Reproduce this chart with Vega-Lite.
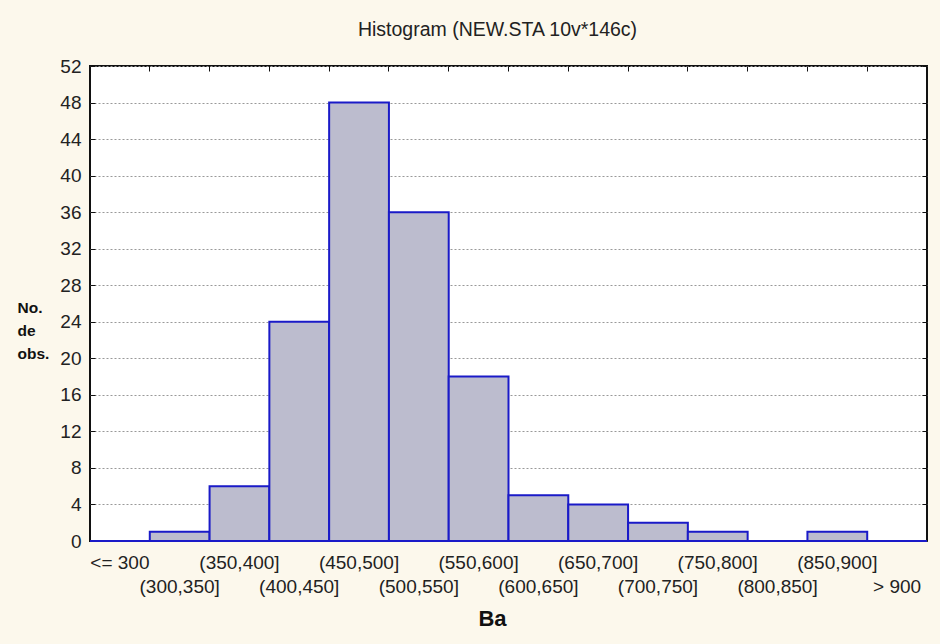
{
  "$schema": "https://vega.github.io/schema/vega-lite/v6.json",
  "width": 837,
  "height": 475,
  "autosize": {"type": "none"},
  "padding": {"left": 90, "top": 66, "right": 13, "bottom": 103},
  "background": "#FCF8EC",
  "config": {
    "view": {"stroke": "#111111", "strokeWidth": 2, "fill": "#FFFFFF"},
    "font": "Liberation Sans"
  },
  "title": {
    "text": "Histogram (NEW.STA 10v*146c)",
    "fontSize": 19.5,
    "fontWeight": "normal",
    "color": "#222222",
    "font": "Liberation Sans",
    "anchor": "middle",
    "dx": -11,
    "offset": 17
  },
  "data": {
    "values": [
      {"label": "<= 300", "count": 0},
      {"label": "(300,350]", "count": 1},
      {"label": "(350,400]", "count": 6},
      {"label": "(400,450]", "count": 24},
      {"label": "(450,500]", "count": 48},
      {"label": "(500,550]", "count": 36},
      {"label": "(550,600]", "count": 18},
      {"label": "(600,650]", "count": 5},
      {"label": "(650,700]", "count": 4},
      {"label": "(700,750]", "count": 2},
      {"label": "(750,800]", "count": 1},
      {"label": "(800,850]", "count": 0},
      {"label": "(850,900]", "count": 1},
      {"label": "> 900", "count": 0}
    ]
  },
  "layer": [
    {
      "mark": {"type": "bar", "fill": "#BCBCCE", "stroke": "#1A1AC8", "strokeWidth": 2},
      "encoding": {
        "x": {
          "field": "label",
          "type": "nominal",
          "sort": null,
          "scale": {"paddingInner": 0, "paddingOuter": 0},
          "axis": {
            "orient": "bottom",
            "title": "Ba",
            "titleFontSize": 22,
            "titleFontWeight": 900,
            "titleColor": "#111111",
            "titleX": 402,
            "titleAlign": "center",
            "titlePadding": 12,
            "labelAngle": 0,
            "labelFontSize": 19,
            "labelColor": "#222222",
            "labelPadding": 12,
            "labelLineHeight": 24,
            "labelExpr": "round(datum.index * 13) % 2 == 0 ? datum.label : ['', datum.label]",
            "ticks": false,
            "domain": false,
            "grid": false
          }
        },
        "y": {
          "field": "count",
          "type": "quantitative",
          "scale": {"domain": [0, 52], "nice": false},
          "axis": {
            "orient": "left",
            "values": [0, 4, 8, 12, 16, 20, 24, 28, 32, 36, 40, 44, 48, 52],
            "title": ["No.", "de", "obs."],
            "titleAngle": 0,
            "titleFontSize": 15.5,
            "titleFontWeight": "bold",
            "titleColor": "#111111",
            "titleAlign": "left",
            "titleBaseline": "middle",
            "titleLineHeight": 23,
            "titleX": -73,
            "titleY": 241,
            "labelFontSize": 19,
            "labelColor": "#222222",
            "labelPadding": 14,
            "tickSize": -5,
            "tickColor": "#111111",
            "domain": false,
            "grid": true,
            "gridColor": "#999999",
            "gridDash": [2, 2],
            "gridWidth": 1
          }
        }
      }
    },
    {
      "mark": {"type": "bar", "opacity": 0},
      "encoding": {
        "x": {
          "field": "label",
          "type": "nominal",
          "sort": null,
          "axis": {
            "orient": "top",
            "title": null,
            "labels": false,
            "bandPosition": 0,
            "tickSize": -5,
            "tickColor": "#111111",
            "domain": false,
            "grid": false
          }
        },
        "y": {
          "field": "count",
          "type": "quantitative",
          "axis": {
            "orient": "right",
            "title": null,
            "labels": false,
            "values": [0, 4, 8, 12, 16, 20, 24, 28, 32, 36, 40, 44, 48, 52],
            "tickSize": -5,
            "tickColor": "#111111",
            "domain": false,
            "grid": false
          }
        }
      }
    },
    {
      "mark": {"type": "rule", "color": "#1A1AC8", "strokeWidth": 2},
      "encoding": {"y": {"datum": 0, "axis": null}}
    }
  ],
  "resolve": {"axis": {"x": "independent", "y": "independent"}}
}
